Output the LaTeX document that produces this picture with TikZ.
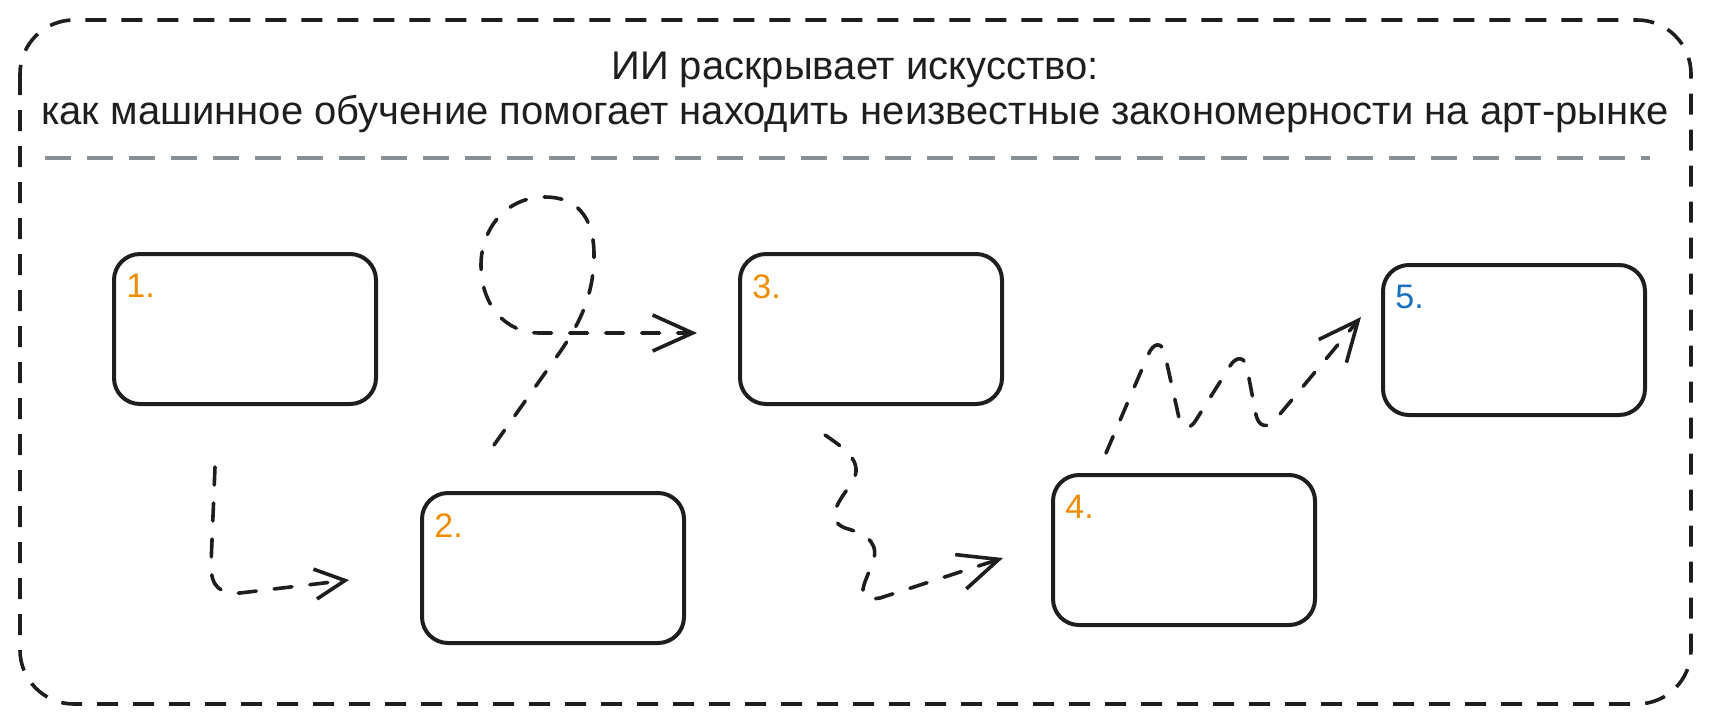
\documentclass[tikz,border=0pt]{standalone}
\usepackage{fontspec}
\setmainfont{Liberation Sans}
\usetikzlibrary{arrows.meta}
\definecolor{ink}{HTML}{1E1E1E}
\definecolor{numor}{HTML}{F08C00}
\definecolor{numbl}{HTML}{1971C2}
\definecolor{rulegray}{HTML}{868E96}
\begin{document}
\begin{tikzpicture}
	[x=0.5pt,y=-0.5pt,
	card/.style={draw=ink,line width=2pt,rounded corners=13pt,minimum width=131pt,minimum height=75pt,inner sep=0pt},
	num/.style={anchor=north west,inner sep=0pt,font=\fontsize{17}{17}\selectfont},
	flow/.style={draw=ink,line width=1.8pt,line cap=round,dash pattern=on 9pt off 9pt,-{Straight Barb[length=20pt,width=18pt]}}
	]
	\useasboundingbox (0,0) rectangle (1711,724);
	\draw[ink,line width=1.8pt,dash pattern=on 10.5pt off 7.5pt,rounded corners=27pt] (20,20) rectangle (1691,704);
	\node[font=\fontsize{20}{22.5}\selectfont,align=center,text=ink] (title) at (855,92)
		{ИИ раскрывает искусство:\\как машинное обучение помогает находить неизвестные закономерности на арт-рынке};
	\coordinate (dl) at (45,158);
	\coordinate (dr) at (1650,158);
	\draw[rulegray,line width=2pt,dash pattern=on 13pt off 8pt] (dl) -- (dr);
	\node[card] (b1) at (245,329) {};
	\node[card] (b2) at (553,568) {};
	\node[card] (b3) at (871,329) {};
	\node[card] (b4) at (1184,550) {};
	\node[card] (b5) at (1514,340) {};
	\node[num,text=numor] (n1) at ([xshift=7pt,yshift=-11pt]b1.north west) {1.};
	\node[num,text=numor] (n2) at ([xshift=7pt,yshift=-11pt]b2.north west) {2.};
	\node[num,text=numor] (n3) at ([xshift=7pt,yshift=-11pt]b3.north west) {3.};
	\node[num,text=numor] (n4) at ([xshift=7pt,yshift=-11pt]b4.north west) {4.};
	\node[num,text=numbl] (n5) at ([xshift=7pt,yshift=-11pt]b5.north west) {5.};
	\coordinate (s1) at (215,467);
	\coordinate (e1) at (349,580);
	\coordinate (s2) at (494,445);
	\coordinate (e2) at (697,333);
	\coordinate (s3) at (825,435);
	\coordinate (e3) at (1003,558);
	\coordinate (s4) at (1106,453);
	\coordinate (e4) at (1361,317);
	\draw[flow,-{Straight Barb[length=15pt,width=15pt]}] (s1) -- (211,565)
		.. controls (211,587) and (220,594) .. (240,593) -- (e1);
	\draw[flow] (s2) -- (560,352) .. controls (575,330) and (594,300) .. (594,255)
		.. controls (594,215) and (575,197) .. (545,197)
		.. controls (505,197) and (481,230) .. (481,265)
		.. controls (481,305) and (505,333) .. (540,333) -- (e2);
	\draw[flow] (s3) .. controls (850,452) and (866,465) .. (849,487)
		.. controls (838,502) and (825,520) .. (845,528)
		.. controls (870,535) and (880,545) .. (872,565)
		.. controls (862,588) and (855,602) .. (880,598) -- (e3);
	\draw[flow] (s4) -- (1148,355) .. controls (1153,343) and (1162,340) .. (1165,355)
		-- (1179,418) .. controls (1182,430) and (1190,430) .. (1196,420)
		-- (1230,366) .. controls (1236,356) and (1245,356) .. (1247,368)
		-- (1256,415) .. controls (1259,428) and (1268,428) .. (1275,420) -- (e4);
\end{tikzpicture}
\end{document}
